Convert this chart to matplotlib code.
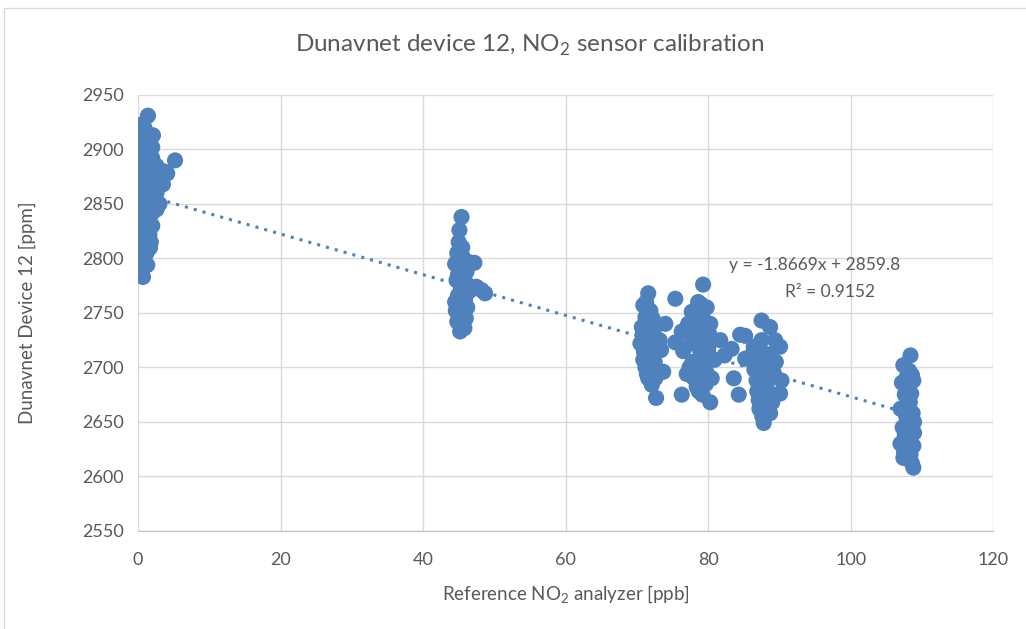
import matplotlib
matplotlib.use("Agg")
import matplotlib.pyplot as plt
from matplotlib.patches import Rectangle

plt.rcParams['font.family'] = ['Lato', 'DejaVu Sans']
plt.rcParams['mathtext.fontset'] = 'custom'
plt.rcParams['mathtext.rm'] = 'Lato'

# cluster near 0 ppb
x1 = [1.4, 0.55, 1.0, 2.1, 5.2, 4.1, 3.1, 0.7, 1.3, 0.5,
      0.5, 0.5, 0.5, 0.5, 0.5, 0.5, 0.5, 0.5, 0.5, 0.5,
      1.2, 1.2, 1.2, 1.2, 1.2, 1.2, 1.2, 1.2, 1.2,
      2.0, 2.0, 2.0, 2.0, 2.0, 2.0, 2.0,
      2.6, 2.6, 2.6, 2.6, 3.5, 3.6, 3.0, 0.9, 1.6, 0.4, 1.8, 0.8,
      0.9, 0.9, 0.9, 0.9, 0.9, 0.9, 1.6, 1.6, 1.6, 1.6, 1.7, 2.3, 2.3, 1.1]
y1 = [2931, 2923, 2908, 2913, 2890, 2878, 2871, 2783, 2794, 2790,
      2800, 2812, 2825, 2838, 2850, 2862, 2875, 2888, 2900, 2915,
      2805, 2818, 2830, 2845, 2858, 2870, 2882, 2895, 2905,
      2830, 2842, 2855, 2868, 2880, 2892, 2902,
      2845, 2860, 2872, 2885, 2868, 2880, 2850, 2920, 2898, 2808, 2815, 2830,
      2796, 2842, 2866, 2880, 2893, 2852, 2836, 2862, 2888, 2822, 2810, 2852, 2876, 2915]

# cluster near 45 ppb
x2 = [45.4, 45.1, 45.0, 45.5, 44.8, 45.6, 46.3, 47.2, 45.0, 45.8,
      44.7, 46.0, 45.3, 47.5, 48.2, 48.7, 44.9, 45.9, 45.2, 46.2,
      44.6, 45.5, 46.0, 44.8, 45.3, 45.8, 45.2, 44.5, 46.5, 46.1, 44.5,
      45.4, 45.4, 45.4, 45.4, 45.4, 44.9, 45.9, 45.1, 45.7]
y2 = [2838, 2826, 2815, 2810, 2805, 2800, 2797, 2796, 2790, 2786,
      2780, 2778, 2772, 2774, 2771, 2768, 2766, 2763, 2758, 2755,
      2752, 2748, 2745, 2742, 2738, 2736, 2733, 2760, 2770, 2788, 2795,
      2750, 2762, 2776, 2792, 2804, 2785, 2758, 2745, 2770]

# cluster near 72 ppb
x3 = [71.6, 70.9, 71.2, 70.7, 70.5, 70.9, 71.4, 72.1, 72.7, 74.0,
      73.7, 73.4, 72.3, 75.4, 76.3, 75.4, 76.3, 71.5, 72.0, 71.0,
      72.5, 71.8, 70.8, 72.8, 71.3, 72.2, 71.4, 71.4, 71.6, 71.6, 71.0,
      72.4, 71.9, 71.2, 72.6, 73.2]
y3 = [2768, 2757, 2746, 2737, 2722, 2707, 2694, 2684, 2672, 2740,
      2696, 2716, 2731, 2763, 2733, 2723, 2675, 2750, 2725, 2715,
      2705, 2700, 2730, 2720, 2760, 2745, 2738, 2728, 2712, 2690, 2715,
      2735, 2752, 2700, 2690, 2725]

# cluster near 79 ppb
x4 = [79.3, 78.6, 79.8, 77.7, 77.2, 80.3, 76.5, 81.7, 80.9, 77.0,
      78.4, 80.3, 79.2, 83.3, 82.3, 78.5, 79.0, 79.5, 78.2, 80.0,
      78.8, 79.4, 77.8, 80.5, 78.0, 79.7, 78.9, 79.1, 77.5, 80.2,
      79.0, 79.0, 79.3, 78.6, 79.6, 78.1, 77.4, 80.0, 79.8, 78.7, 79.4]
y4 = [2776, 2760, 2755, 2751, 2740, 2740, 2715, 2725, 2707, 2694,
      2682, 2668, 2675, 2717, 2711, 2745, 2735, 2725, 2728, 2715,
      2705, 2698, 2705, 2690, 2690, 2685, 2715, 2748, 2722, 2730,
      2758, 2700, 2710, 2735, 2742, 2740, 2700, 2718, 2695, 2678, 2688]

# cluster near 88 ppb
x5 = [87.5, 88.7, 84.5, 85.2, 83.6, 84.3, 85.2, 90.1, 90.3, 90.1,
      87.8, 88.7, 86.8, 88.2, 86.4, 89.4, 87.1, 87.5, 88.5, 87.0,
      88.0, 89.5, 86.5, 87.8, 88.3, 87.2, 89.0, 86.2, 88.6, 87.6,
      87.4, 88.0, 87.9, 88.3, 86.9, 89.2, 87.7]
y5 = [2743, 2737, 2730, 2729, 2690, 2675, 2708, 2719, 2688, 2676,
      2649, 2658, 2688, 2700, 2719, 2725, 2670, 2725, 2712, 2705,
      2695, 2705, 2698, 2680, 2680, 2662, 2668, 2712, 2690, 2655,
      2715, 2688, 2672, 2665, 2678, 2695, 2702]

# cluster near 108 ppb
x6 = [108.4, 107.4, 108.6, 107.2, 108.0, 108.8, 107.6, 108.3, 107.0, 108.7,
      107.8, 108.2, 107.3, 108.9, 107.6, 108.1, 107.0, 108.8, 107.5, 108.4,
      107.4, 108.6, 108.8, 108.0, 107.9, 108.5, 108.9,
      108.2, 108.2, 108.2, 108.1, 107.9, 108.4]
y6 = [2711, 2702, 2693, 2686, 2680, 2688, 2675, 2668, 2662, 2658,
      2655, 2648, 2645, 2640, 2638, 2632, 2630, 2628, 2622, 2620,
      2617, 2612, 2608, 2664, 2692, 2676, 2650,
      2697, 2683, 2672, 2643, 2626, 2635]

x_ref = x1 + x2 + x3 + x4 + x5 + x6
y_dev = y1 + y2 + y3 + y4 + y5 + y6

slope = -1.8669
intercept = 2859.8
r2 = 0.9152

blue = '#4F81BD'
grey = '#595959'

fig = plt.figure(figsize=(10.26, 6.29), dpi=100)
ax = fig.add_axes([0.1345, 0.156, 0.8335, 0.693])

ax.scatter(x_ref, y_dev, s=135, color=blue, edgecolors='none', zorder=3)

# linear trendline over the data range
x_line = [min(x_ref), max(x_ref)]
y_line = [slope * v + intercept for v in x_line]
ax.plot(x_line, y_line, linestyle=(0, (1, 2)), linewidth=2.2, color=blue, zorder=2)

ax.set_xlim(0, 120)
ax.set_ylim(2550, 2950)
ax.set_xticks(range(0, 121, 20))
ax.set_yticks(range(2550, 2951, 50))
ax.grid(True, color='#D9D9D9', linewidth=1)
ax.set_axisbelow(True)
for s in ['top', 'right', 'left']:
    ax.spines[s].set_visible(False)
ax.spines['bottom'].set_color('#BFBFBF')
ax.tick_params(length=0, labelsize=13, colors=grey)
ax.tick_params(axis='y', pad=10)
ax.tick_params(axis='x', pad=15)

ax.set_xlabel('Reference NO$_\\mathregular{2}$ analyzer [ppb]', fontsize=13.5, color=grey)
ax.set_ylabel('Dunavnet Device 12 [ppm]', fontsize=13.5, color=grey)
ax.xaxis.set_label_coords(0.5, (531 - 594) / 436)
ax.xaxis.label.set_va('center')
ax.yaxis.set_label_coords((27 - 138) / 855, 0.5)
ax.yaxis.label.set_va('center')

fig.text(530 / 1026, 1 - 45 / 629, 'Dunavnet device 12, NO$_\\mathregular{2}$ sensor calibration',
         ha='center', va='center', fontsize=17.5, color=grey)

ax.text(94.9, 2794, 'y = %.4fx + %.1f' % (slope, intercept), ha='center', va='center',
        fontsize=12.5, color=grey)
ax.text(97.1, 2769, 'R² = %.4f' % r2, ha='center', va='center', fontsize=12.5, color=grey)

fig.patches.append(Rectangle((4 / 1026, -0.1), 1.2, 1.1 - 8 / 629, transform=fig.transFigure,
                             fill=False, edgecolor='#D9D9D9', linewidth=1))

fig.savefig('out.png', dpi=100)
